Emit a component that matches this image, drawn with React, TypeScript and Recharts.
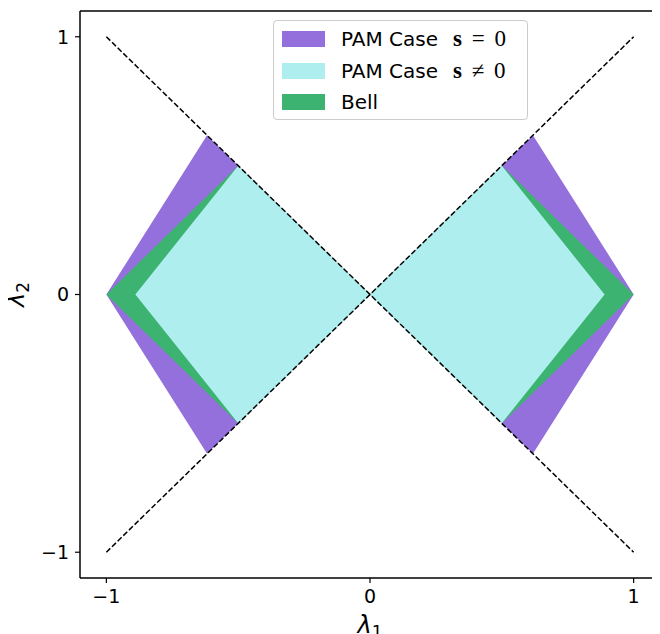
import { ComposedChart, Area, Line, XAxis, YAxis, ReferenceLine } from "recharts";

// axis ticks
const xTicks = [-1, 0, 1];
const yTicks = [-1, 0, 1];
const yTop = 1.1;

// PAM case, s = 0 (outer region)
const pamZeroX = [-1, -0.618, 0, 0.618, 1];
const pamZeroLow = [0, -0.618, 0, -0.618, 0];
const pamZeroHigh = [0, 0.618, 0, 0.618, 0];

// Bell region
const bellX = [-1, -0.5, 0, 0.5, 1];
const bellLow = [0, -0.5, 0, -0.5, 0];
const bellHigh = [0, 0.5, 0, 0.5, 0];

// PAM case, s != 0 (inner region)
const pamNonZeroX = [-0.89, -0.5, 0, 0.5, 0.89];
const pamNonZeroLow = [0, -0.5, 0, -0.5, 0];
const pamNonZeroHigh = [0, 0.5, 0, 0.5, 0];

// dashed diagonals
const diagX = [-1, 1];
const diagDownY = [1, -1];
const diagUpY = [-1, 1];

const legendNames = ["PAM Case", "PAM Case", "Bell"];
const legendMath = ["=", "\u2260", ""];
const legendColors = ["#9370DB", "#AFEEEE", "#3CB371"];

const toRange = (xs: number[], lo: number[], hi: number[]) =>
  xs.map((x, i) => ({ x, range: [lo[i], hi[i]] }));
const toLine = (xs: number[], ys: number[]) => xs.map((x, i) => ({ x, y: ys[i] }));

const pamZero = toRange(pamZeroX, pamZeroLow, pamZeroHigh);
const bell = toRange(bellX, bellLow, bellHigh);
const pamNonZero = toRange(pamNonZeroX, pamNonZeroLow, pamNonZeroHigh);
const diagDown = toLine(diagX, diagDownY);
const diagUp = toLine(diagX, diagUpY);

const fmt = (v: number) => (v < 0 ? `\u2212${Math.abs(v)}` : `${v}`);

const tickStyle = { fontSize: 19, fill: "#000", fontFamily: "DejaVu Sans" };

function XTitle({ viewBox }: any) {
  const cx = viewBox.x + viewBox.width / 2;
  return (
    <text x={cx} y={viewBox.y + viewBox.height - 1} textAnchor="middle" fontFamily="DejaVu Sans" fontSize={24} fontStyle="italic" fill="#000">
      λ<tspan fontSize={17} dy={5} fontStyle="normal">1</tspan>
    </text>
  );
}

function YTitle({ viewBox }: any) {
  const cy = viewBox.y + viewBox.height / 2;
  const x = 16;
  return (
    <text x={x} y={cy} textAnchor="middle" transform={`rotate(-90 ${x} ${cy})`} fontFamily="DejaVu Sans" fontSize={24} fontStyle="italic" fill="#000">
      λ<tspan fontSize={17} dy={5} fontStyle="normal">2</tspan>
    </text>
  );
}

function LegendBox() {
  return (
    <div
      style={{
        position: "absolute",
        left: 265,
        top: 12,
        width: 253,
        height: 98,
        border: "1px solid #cccccc",
        borderRadius: 4,
        background: "rgba(255,255,255,0.8)",
        fontFamily: "DejaVu Sans",
        fontSize: 20,
        color: "#000",
      }}
    >
      {legendNames.map((name, i) => (
        <div key={i} style={{ position: "absolute", left: 0, top: 6 + i * 31.5, width: 253, height: 24, display: "flex", alignItems: "center" }}>
          <div style={{ marginLeft: 8, width: 43, height: 16, flexShrink: 0, background: legendColors[i] }} />
          <span style={{ marginLeft: 16, width: 112, flexShrink: 0, whiteSpace: "nowrap" }}>{name}</span>
          {legendMath[i] && (
            <span style={{ fontFamily: "Liberation Serif", fontSize: 23, flexShrink: 0, whiteSpace: "nowrap", wordSpacing: 4 }}>
              <b>s</b> {legendMath[i]} 0
            </span>
          )}
        </div>
      ))}
    </div>
  );
}

export default function App() {
  return (
    <div style={{ position: "relative", width: 652, height: 626 }}>
      <ComposedChart width={652} height={626} margin={{ top: 3, right: 0, bottom: 0, left: 0 }}>
        <XAxis
          dataKey="x"
          type="number"
          domain={[-1.1, 1.1]}
          ticks={xTicks}
          allowDataOverflow
          tickFormatter={fmt}
          tick={tickStyle}
          tickSize={5}
          tickMargin={7}
          height={56}
          axisLine={{ stroke: "#000", strokeWidth: 1.5 }}
          tickLine={{ stroke: "#000", strokeWidth: 1.2 }}
          label={<XTitle />}
        />
        <YAxis
          dataKey="y"
          type="number"
          domain={[-1.1, 1.1]}
          ticks={yTicks}
          allowDataOverflow
          tickFormatter={fmt}
          tick={tickStyle}
          tickSize={5}
          tickMargin={6}
          width={72}
          axisLine={{ stroke: "#000", strokeWidth: 1.5 }}
          tickLine={{ stroke: "#000", strokeWidth: 1.2 }}
          label={<YTitle />}
        />
        <Area data={pamZero} dataKey="range" type="linear" fill="#9370DB" fillOpacity={1} stroke="none" isAnimationActive={false} />
        <Area data={bell} dataKey="range" type="linear" fill="#3CB371" fillOpacity={1} stroke="none" isAnimationActive={false} />
        <Area data={pamNonZero} dataKey="range" type="linear" fill="#AFEEEE" fillOpacity={1} stroke="none" isAnimationActive={false} />
        <Line data={diagDown} dataKey="y" type="linear" stroke="#000" strokeWidth={1.5} strokeDasharray="5.5 2.4" dot={false} isAnimationActive={false} />
        <Line data={diagUp} dataKey="y" type="linear" stroke="#000" strokeWidth={1.5} strokeDasharray="5.5 2.4" dot={false} isAnimationActive={false} />
        <ReferenceLine y={yTop} stroke="#000" strokeWidth={1.5} ifOverflow="visible" />
      </ComposedChart>
      <LegendBox />
    </div>
  );
}
